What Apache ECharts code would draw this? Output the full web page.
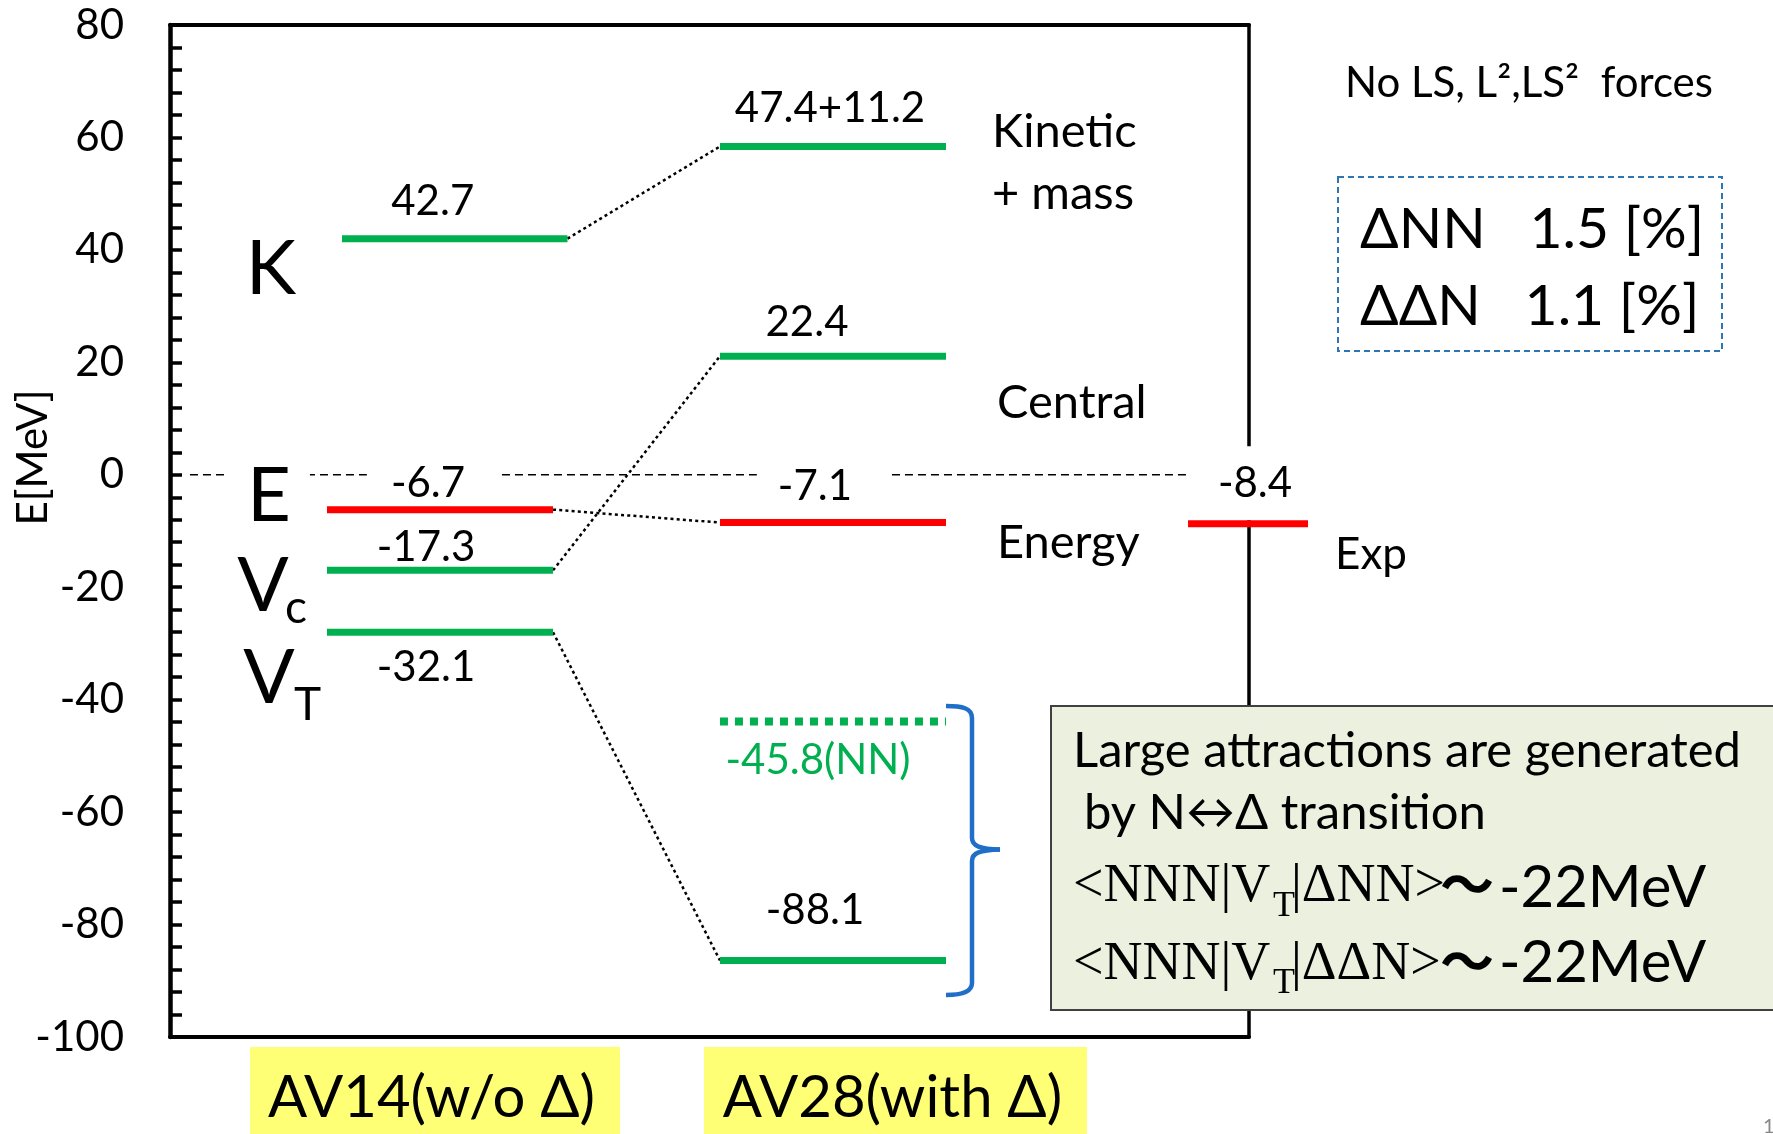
<!DOCTYPE html>
<html>
<head>
<meta charset="utf-8">
<script src="https://cdn.jsdelivr.net/npm/echarts/dist/echarts.min.js"></script>
<style>
html,body{margin:0;padding:0;background:#fff;}
#c{width:1773px;height:1134px;}
</style>
</head>
<body>
<div id="c"></div>
<script>
// ---------------- data ----------------
const levelNames = ['K', 'E', 'Vc', 'VT'];
const av14Values = [42.0, -6.2, -17.0, -28.0];
const av14Labels = ['42.7', '-6.7', '-17.3', '-32.1'];
const av28Values = [58.4, -8.5, 21.1, -86.4];
const av28Labels = ['47.4+11.2', '-7.1', '22.4', '-88.1'];
const nnValues = [-43.9];
const nnLabels = ['-45.8(NN)'];
const expValues = [-8.7];
const expLabels = ['-8.4'];
const yTickLabels = [-100, -80, -60, -40, -20, 0, 20, 40, 60, 80];
const columnNames = ['AV14(w/o Δ)', 'AV28(with Δ)'];

// ---------------- layout / style ----------------
const GREEN = '#00B050', RED = '#FF0000';
const levelColors = [GREEN, RED, GREEN, GREEN];
const PX_PER_X = 107.9; // pixels per x-unit (grid width / 10)
const spans = {
  av14K: [1.594, 3.684], av14: [1.455, 3.550], av28: [5.097, 7.192],
  exp: [9.435, 10.547], zero: [0.185, 9.425]
};
const av14Spans = [spans.av14K, spans.av14, spans.av14, spans.av14];
const av14LabelOffsets = [[-22, -37], [-7.5, -26], [-14, -23], [-14, 35]];
const av28LabelOffsets = [[-3, -38], [-9.5, -36], [-26, -34], [-18, -50]];
const av14LabelPads = [null, [0, 33, 0, 24], null, null];
const av28LabelPads = [null, [0, 38, 0, 21], null, null];
const SANS = 'Lato';
const SERIF = 'Liberation Serif';
const LABEL_SIZE = 42;

function seg(name, span, v, color, width, dash, z) {
  return {
    type: 'line', name: name, data: [[span[0], v], [span[1], v]],
    symbol: 'none', clip: false, silent: true, animation: false, z: z || 5,
    lineStyle: { color: color, width: width, type: dash || 'solid', cap: 'butt', opacity: 1 }
  };
}
function link(a, b) {
  return {
    type: 'line', data: [a, b], symbol: 'none', clip: false, silent: true,
    animation: false, z: 4,
    lineStyle: { color: '#000', width: 2.5, type: [3, 3.2] }
  };
}
const mid = s => (s[0] + s[1]) / 2;
function mkLabel(x, v, text, off, pad, color) {
  const label = {
    show: true, position: 'inside', formatter: text, offset: off, opacity: 1,
    color: color || '#000', fontSize: LABEL_SIZE, fontFamily: SANS, lineHeight: LABEL_SIZE
  };
  if (pad) { label.backgroundColor = '#fff'; label.padding = pad; }
  return { value: [x, v], label: label };
}

const series = [];
series.push(seg('zero', spans.zero, 0, '#000', 1.5, [8, 5], 1));
levelNames.forEach((n, i) => {
  series.push(seg('AV14 ' + n, av14Spans[i], av14Values[i], levelColors[i], 7));
  series.push(seg('AV28 ' + n, spans.av28, av28Values[i], levelColors[i], 7));
  series.push(link([av14Spans[i][1], av14Values[i]], [spans.av28[0], av28Values[i]]));
});
series.push(seg('AV28 NN', spans.av28, nnValues[0], GREEN, 8, [8, 7]));
// experimental level: a flat rect symbol centred on its column (extends past the frame)
series.push({
  type: 'scatter', name: 'Exp', data: [[mid(spans.exp), expValues[0]]],
  symbol: 'rect', symbolSize: [(spans.exp[1] - spans.exp[0]) * PX_PER_X, 7],
  itemStyle: { color: RED, opacity: 1 }, clip: false, silent: true, animation: false, z: 5
});

const labelData = [];
levelNames.forEach((n, i) => {
  labelData.push(mkLabel(mid(av14Spans[i]), av14Values[i], av14Labels[i], av14LabelOffsets[i], av14LabelPads[i]));
  labelData.push(mkLabel(mid(spans.av28), av28Values[i], av28Labels[i], av28LabelOffsets[i], av28LabelPads[i]));
});
labelData.push(mkLabel(mid(spans.av28), nnValues[0], nnLabels[0], [-15, 39], null, GREEN));
labelData.push(mkLabel(mid(spans.exp), expValues[0], expLabels[0], [-3, -40.5], [19, 10, 13, 30]));
series.push({
  type: 'scatter', data: labelData, symbolSize: 0, z: 3, silent: true,
  animation: false, clip: false, itemStyle: { color: '#fff', opacity: 1 }
});

// ---------------- annotations ----------------
function txt(text, x, y, size, o) {
  o = o || {};
  const style = Object.assign({
    text: text, fontSize: size, fontFamily: o.family || SANS, fontWeight: o.weight || 'normal',
    fill: o.color || '#000', align: o.align || 'left', verticalAlign: 'middle',
    textAlign: o.align || 'left', textVerticalAlign: 'middle'
  }, o.style || {});
  return Object.assign({ type: 'text', x: x, y: y, z: 50, silent: true, style: style }, o.el || {});
}
const BRACE = { stroke: '#1F6FC8', lineWidth: 4.5, fill: null };
function bz(p) {
  return { type: 'bezierCurve', z: 45, silent: true,
    shape: { x1: p[0], y1: p[1], cpx1: p[2], cpy1: p[3], cpx2: p[4], cpy2: p[5], x2: p[6], y2: p[7] },
    style: BRACE };
}
function ln(p) {
  return { type: 'line', z: 45, silent: true, shape: { x1: p[0], y1: p[1], x2: p[2], y2: p[3] }, style: BRACE };
}

const graphics = [
  txt('K', 271, 269.6, 76, { align: 'center' }),
  txt('E', 268, 496, 76, { align: 'center', style: { backgroundColor: '#fff', padding: [0, 19, 0, 21] } }),
  txt('V', 263, 586.6, 76, { align: 'center' }),
  txt('c', 296, 608, 46, { align: 'center' }),
  txt('V', 269, 678.6, 76, { align: 'center' }),
  txt('T', 307.5, 705, 46, { align: 'center' }),
  txt('E[MeV]', 33.5, 457.5, 42, { align: 'center', el: { rotation: Math.PI / 2 } }),
  txt('Kinetic', 992, 131.7, 47),
  txt('+ mass', 992, 194, 47),
  txt('Central', 997, 403, 47),
  txt('Energy', 997, 543, 47),
  txt('Exp', 1335, 554.5, 44),
  txt('No LS, L²,LS²  forces', 1345, 83, 42),
  { type: 'rect', z: 40, silent: true, shape: { x: 1338, y: 177, width: 384, height: 174 },
    style: { fill: null, stroke: '#2E75B6', lineWidth: 2, lineDash: [6, 4] } },
  txt('ΔNN   1.5 [%]', 1360, 230, 57),
  txt('ΔΔN   1.1 [%]', 1360, 307, 57),
  { type: 'rect', z: 40, silent: true, shape: { x: 1051, y: 706, width: 760, height: 304 },
    style: { fill: '#EBF1DE', stroke: '#404040', lineWidth: 2 } },
  txt('Large attractions are generated', 1073, 751, 49),
  txt('by N↔Δ transition', 1084, 813, 49),
  txt('<NNN|V', 1073, 887, 54, { family: SERIF }),
  txt('T', 1273, 907, 36, { family: SERIF }),
  txt('|ΔNN>', 1291, 887, 54, { family: SERIF }),
  txt('〜', 1467, 884, 54, { family: 'Noto Sans CJK JP', weight: 'bold', align: 'center' }),
  txt('-22MeV', 1499, 888.4, 58),
  txt('<NNN|V', 1073, 965, 54, { family: SERIF }),
  txt('T', 1273, 984, 36, { family: SERIF }),
  txt('|ΔΔN>', 1291, 965, 54, { family: SERIF }),
  txt('〜', 1467, 961, 54, { family: 'Noto Sans CJK JP', weight: 'bold', align: 'center' }),
  txt('-22MeV', 1499, 963.4, 58),
  bz([946, 706, 962, 706, 972, 708, 972, 718]),
  ln([972, 718, 972, 838]),
  bz([972, 838, 972, 846, 980, 849, 1000, 849.5]),
  bz([1000, 849.5, 980, 850, 972, 853, 972, 861]),
  ln([972, 861, 972, 983]),
  bz([972, 983, 972, 992, 962, 995, 946, 995]),
  { type: 'rect', z: 40, silent: true, shape: { x: 250, y: 1047, width: 370, height: 90 }, style: { fill: '#FFFF75' } },
  { type: 'rect', z: 40, silent: true, shape: { x: 704, y: 1047, width: 383, height: 90 }, style: { fill: '#FFFF75' } },
  txt(columnNames[0], 431.5, 1098.4, 58, { align: 'center' }),
  txt(columnNames[1], 892.5, 1098.4, 58, { align: 'center' }),
  txt('1', 1763, 1127, 20, { color: '#888' })
];

const chart = echarts.init(document.getElementById('c'));
chart.setOption({
  animation: false,
  backgroundColor: '#fff',
  grid: { left: 170, right: 524, top: 25, bottom: 97, containLabel: false },
  xAxis: [
    { type: 'value', min: 0, max: 10, position: 'bottom',
      axisLine: { show: true, onZero: false, lineStyle: { color: '#000', width: 4 } },
      axisTick: { show: false }, axisLabel: { show: false }, splitLine: { show: false } },
    { type: 'value', min: 0, max: 10, position: 'top',
      axisLine: { show: true, onZero: false, lineStyle: { color: '#000', width: 4 } },
      axisTick: { show: false }, axisLabel: { show: false }, splitLine: { show: false } }
  ],
  yAxis: [
    { type: 'value', min: -100, max: 80, interval: 4, position: 'left',
      axisLine: { show: true, onZero: false, lineStyle: { color: '#000', width: 4.5 } },
      axisTick: { show: true, inside: true, length: 12, lineStyle: { color: '#000', width: 3.5 } },
      axisLabel: { show: true, margin: 46, fontSize: 42, fontFamily: SANS, color: '#000',
        formatter: v => (yTickLabels.indexOf(v) >= 0 ? String(v) : '') },
      splitLine: { show: false } },
    { type: 'value', min: -100, max: 80, interval: 4, position: 'right',
      axisLine: { show: true, onZero: false, lineStyle: { color: '#000', width: 3.5 } },
      axisTick: { show: false }, axisLabel: { show: false }, splitLine: { show: false } }
  ],
  series: series,
  graphic: graphics
});
</script>
</body>
</html>
